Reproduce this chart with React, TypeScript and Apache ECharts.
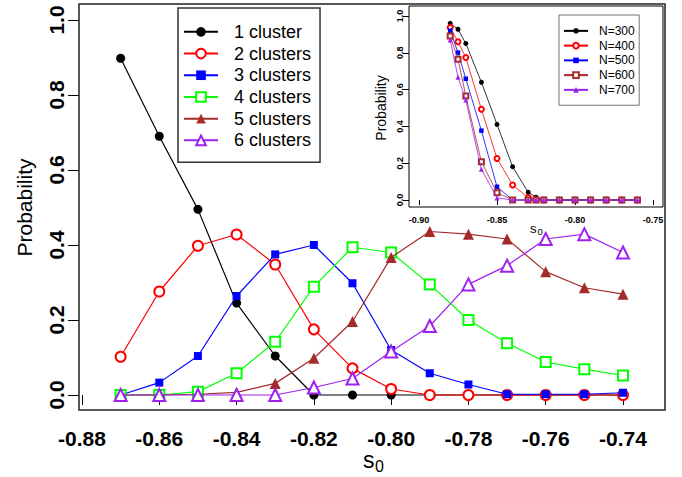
import React, { useEffect, useRef } from "react";
import * as echarts from "echarts";

// ---- main plot data ----
const s0Values = [-0.87, -0.86, -0.85, -0.84, -0.83, -0.82, -0.81, -0.8, -0.79, -0.78, -0.77, -0.76, -0.75, -0.74];
const cluster1 = [0.898, 0.69, 0.495, 0.245, 0.104, 0, 0, 0, 0, 0, 0, 0, 0, 0];
const cluster2 = [0.102, 0.276, 0.398, 0.428, 0.348, 0.175, 0.071, 0.016, 0, 0, 0, 0, 0, 0];
const cluster3 = [0, 0.033, 0.104, 0.264, 0.375, 0.4, 0.298, 0.12, 0.058, 0.028, 0.002, 0.002, 0.002, 0.006];
const cluster4 = [0, 0, 0.009, 0.058, 0.142, 0.289, 0.394, 0.38, 0.295, 0.2, 0.138, 0.088, 0.069, 0.052];
const cluster5 = [0, 0, 0.002, 0.007, 0.031, 0.098, 0.196, 0.367, 0.436, 0.429, 0.416, 0.329, 0.286, 0.269];
const cluster6 = [0, 0, 0, 0, 0, 0.02, 0.044, 0.116, 0.184, 0.295, 0.345, 0.416, 0.429, 0.38];
const clusterNames = ["1 cluster", "2 clusters", "3 clusters", "4 clusters", "5 clusters", "6 clusters"];

// ---- inset data ----
const insetS0 = [-0.88, -0.875, -0.87, -0.86, -0.85, -0.84, -0.83, -0.825, -0.82, -0.81, -0.8, -0.79, -0.78, -0.77, -0.76];
const n300 = [0.96, 0.928, 0.851, 0.64, 0.411, 0.181, 0.042, 0.015, 0, 0, 0, 0, 0, 0, 0];
const n400 = [0.938, 0.86, 0.774, 0.493, 0.226, 0.082, 0.013, 0.002, 0, 0, 0, 0, 0, 0, 0];
const n500 = [0.92, 0.801, 0.659, 0.377, 0.072, 0, 0, 0, 0, 0, 0, 0, 0, 0, 0];
const n600 = [0.891, 0.765, 0.565, 0.208, 0.04, 0, 0, 0, 0, 0, 0, 0, 0, 0, 0];
const n700 = [0.87, 0.667, 0.543, 0.167, 0.011, 0, 0, 0, 0, 0, 0, 0, 0, 0, 0];
const insetNames = ["N=300", "N=400", "N=500", "N=600", "N=700"];

const FONT = '"Liberation Sans", Arial, sans-serif';

function pairs(xs: number[], ys: number[]) {
  return xs.map((x, i) => [x, ys[i]]);
}

export default function App() {
  const ref = useRef<HTMLDivElement>(null);
  useEffect(() => {
    if (!ref.current) return;
    const chart = echarts.init(ref.current, null, { renderer: "svg" });

    const mainStyles = [
      { symbol: "circle", size: 9, color: "#000000" },
      { symbol: "emptyCircle", size: 10, color: "#FF0000" },
      { symbol: "rect", size: 8, color: "#0000FF" },
      { symbol: "emptyRect", size: 10, color: "#00FF00" },
      { symbol: "triangle", size: 11, color: "#A52A2A" },
      { symbol: "emptyTriangle", size: 12, color: "#A020F0" },
    ];
    const mainData = [cluster1, cluster2, cluster3, cluster4, cluster5, cluster6];

    const insetStyles = [
      { symbol: "circle", size: 5, color: "#000000" },
      { symbol: "emptyCircle", size: 5, color: "#FF0000" },
      { symbol: "rect", size: 4.5, color: "#0000FF" },
      { symbol: "emptyRect", size: 5, color: "#A52A2A" },
      { symbol: "triangle", size: 5, color: "#A020F0" },
    ];
    const insetData = [n300, n400, n500, n600, n700];

    const series: any[] = [];
    mainData.forEach((d, i) => {
      const st = mainStyles[i];
      const empty = st.symbol.startsWith("empty");
      series.push({
        name: clusterNames[i],
        type: "line",
        xAxisIndex: 0,
        yAxisIndex: 0,
        data: pairs(s0Values, d),
        symbol: st.symbol,
        symbolSize: st.size,
        clip: false,
        color: st.color,
        lineStyle: { color: st.color, width: 1.2 },
        itemStyle: { color: st.color, borderColor: st.color, borderWidth: empty ? 1 : 0 },
        emphasis: { disabled: true },
        z: 2 + i,
      });
    });
    insetData.forEach((d, i) => {
      const st = insetStyles[i];
      const empty = st.symbol.startsWith("empty");
      series.push({
        name: insetNames[i],
        type: "line",
        xAxisIndex: 1,
        yAxisIndex: 1,
        data: pairs(insetS0, d),
        symbol: st.symbol,
        symbolSize: st.size,
        clip: false,
        color: st.color,
        lineStyle: { color: st.color, width: 0.8 },
        itemStyle: { color: st.color, borderColor: st.color, borderWidth: empty ? 0.8 : 0 },
        emphasis: { disabled: true },
        z: 10 + i,
      });
    });

    const option: any = {
      animation: false,
      backgroundColor: "#ffffff",
      textStyle: { fontFamily: FONT },
      grid: [
        { left: 82, right: 59, top: 20, bottom: 82 },
        { left: 419, right: 29, top: 16, bottom: 277 },
      ],
      xAxis: [
        {
          type: "value",
          gridIndex: 0,
          min: -0.88,
          max: -0.74,
          interval: 0.02,
          offset: 17,
          axisLine: { show: false },
          axisTick: { show: true, length: 10, lineStyle: { color: "#000", width: 1 } },
          splitLine: { show: false },
          axisLabel: {
            margin: 16,
            fontSize: 21,
            fontWeight: "bold",
            color: "#000",
            fontFamily: FONT,
            formatter: (v: number) => v.toFixed(2),
          },
        },
        {
          type: "value",
          gridIndex: 1,
          min: -0.9,
          max: -0.75,
          interval: 0.05,
          offset: 8,
          axisLine: { show: false },
          axisTick: { show: true, length: 5, lineStyle: { color: "#000", width: 1 } },
          splitLine: { show: false },
          axisLabel: {
            margin: 7,
            fontSize: 9,
            fontWeight: "bold",
            color: "#000",
            fontFamily: FONT,
            formatter: (v: number) => v.toFixed(2),
          },
        },
      ],
      yAxis: [
        {
          type: "value",
          gridIndex: 0,
          min: 0,
          max: 1,
          interval: 0.2,
          offset: 3,
          axisLine: { show: false },
          axisTick: { show: true, length: 11, lineStyle: { color: "#000", width: 1 } },
          splitLine: { show: false },
          axisLabel: {
            rotate: 90,
            margin: 12,
            fontSize: 21,
            fontWeight: "bold",
            color: "#000",
            fontFamily: FONT,
            formatter: (v: number) => v.toFixed(1),
          },
          name: "Probability",
          nameLocation: "middle",
          nameRotate: 90,
          nameGap: 44,
          nameTextStyle: { fontSize: 21, color: "#000", fontFamily: FONT },
        },
        {
          type: "value",
          gridIndex: 1,
          min: 0,
          max: 1,
          interval: 0.2,
          offset: 10,
          axisLine: { show: false },
          axisTick: { show: true, length: 6, lineStyle: { color: "#000", width: 1 } },
          splitLine: { show: false },
          axisLabel: {
            rotate: 90,
            margin: 5,
            fontSize: 9,
            fontWeight: "bold",
            color: "#000",
            fontFamily: FONT,
            formatter: (v: number) => v.toFixed(1),
          },
          name: "Probability",
          nameLocation: "middle",
          nameRotate: 90,
          nameGap: 21,
          nameTextStyle: { fontSize: 14, color: "#000", fontFamily: FONT },
        },
      ],
      legend: [
        {
          data: clusterNames,
          orient: "vertical",
          left: 178,
          top: 8,
          itemWidth: 34,
          itemHeight: 12,
          itemGap: 0,
          padding: [13, 9, 11, 5],
          borderColor: "#333",
          borderWidth: 1.5,
          backgroundColor: "#fff",
          selectedMode: false,
          textStyle: { fontSize: 18, lineHeight: 21.7, color: "#000", fontFamily: FONT, padding: [0, 0, 0, 11] },
        },
        {
          data: insetNames,
          orient: "vertical",
          left: 559,
          top: 15,
          itemWidth: 24,
          itemHeight: 7,
          itemGap: 0,
          padding: [8.5, 4.5, 8, 4],
          borderColor: "#777",
          borderWidth: 1,
          backgroundColor: "#fff",
          selectedMode: false,
          textStyle: { fontSize: 12, lineHeight: 14.75, color: "#000", fontFamily: FONT, padding: [0, 0, 0, 6] },
        },
      ],
      graphic: [
        {
          type: "rect",
          shape: { x: 79, y: 4, width: 586, height: 406 },
          style: { fill: "none", stroke: "#222", lineWidth: 1.5 },
          silent: true,
          z: 1,
        },
        {
          type: "rect",
          shape: { x: 409, y: 6, width: 254, height: 201 },
          style: { fill: "none", stroke: "#000", lineWidth: 1 },
          silent: true,
          z: 1,
        },
        {
          type: "text",
          x: 363,
          y: 460,
          style: { text: "s", fontSize: 23, fontFamily: FONT, fill: "#000", verticalAlign: "middle", align: "left" },
          silent: true,
        },
        {
          type: "text",
          x: 375,
          y: 466,
          style: { text: "0", fontSize: 16, fontFamily: FONT, fill: "#000", verticalAlign: "middle", align: "left" },
          silent: true,
        },
        {
          type: "text",
          x: 530,
          y: 228,
          style: { text: "s", fontSize: 13, fontFamily: FONT, fill: "#000", verticalAlign: "middle", align: "left" },
          silent: true,
        },
        {
          type: "text",
          x: 537.5,
          y: 231.5,
          style: { text: "0", fontSize: 9.5, fontFamily: FONT, fill: "#000", verticalAlign: "middle", align: "left" },
          silent: true,
        },
      ],
      series,
    };
    chart.setOption(option);
    return () => chart.dispose();
  }, []);

  return (
    <div
      ref={ref}
      style={{ position: "fixed", left: 0, top: 0, width: 682, height: 477, background: "#fff" }}
    />
  );
}
